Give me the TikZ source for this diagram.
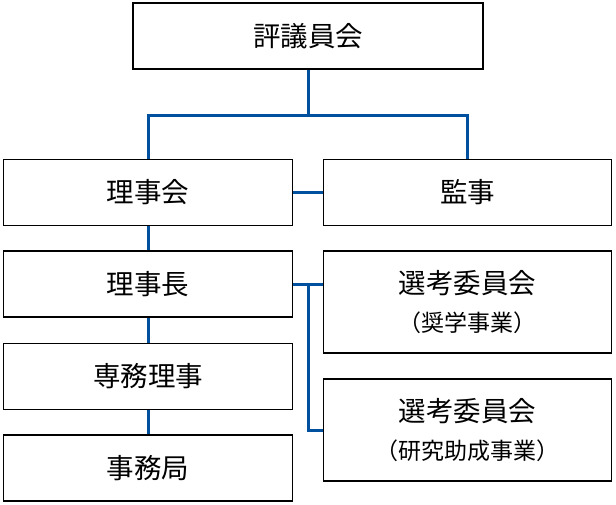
\documentclass[tikz,border=0pt]{standalone}
\usepackage{fontspec}
\newfontfamily\jp{Noto Sans CJK JP}
\definecolor{lineblue}{RGB}{0,80,160}
\begin{document}
\begin{tikzpicture}[x=1pt,y=-1pt,
  orgbox/.style={draw=black,line width=1.2pt,fill=white,inner sep=0pt,align=center,font=\jp\fontsize{27.5}{38}\selectfont},
  leftbox/.style={orgbox,minimum width=289pt,minimum height=66pt},
  rightbox/.style={orgbox,minimum width=288pt},
  link/.style={draw=lineblue,line width=3pt}]
\useasboundingbox (0,0) rectangle (616,504);
\node[orgbox,minimum width=350pt,minimum height=66pt] (top) at (308,36) {評議員会};
\node[leftbox] (rijikai) at (148,192.3) {理事会};
\node[leftbox] (rijicho) at (148,284) {理事長};
\node[leftbox] (senmu) at (148,376.3) {専務理事};
\node[leftbox] (jimu) at (148,468) {事務局};
\node[rightbox,minimum height=66pt] (kanji) at (467.5,192.3) {監事};
\node[rightbox,minimum height=102pt] (sel1) at (467.5,302) {選考委員会\\{\fontsize{23}{38}\selectfont （奨学事業）}};
\node[rightbox,minimum height=102pt] (sel2) at (467.5,430) {選考委員会\\{\fontsize{23}{38}\selectfont （研究助成事業）}};
\coordinate (split) at (308,115);
\coordinate (j) at (308.3,284);
\draw[link] (top.south) -- (split);
\draw[link] (rijikai.north) |- (split) -| (kanji.north);
\draw[link] (rijikai.east) -- (kanji.west);
\draw[link] (rijikai.south) -- (rijicho.north);
\draw[link] (rijicho.south) -- (senmu.north);
\draw[link] (senmu.south) -- (jimu.north);
\draw[link] (rijicho.east) -- (rijicho.east -| sel1.west);
\draw[link] (j) |- (sel2.west);
\end{tikzpicture}
\end{document}
